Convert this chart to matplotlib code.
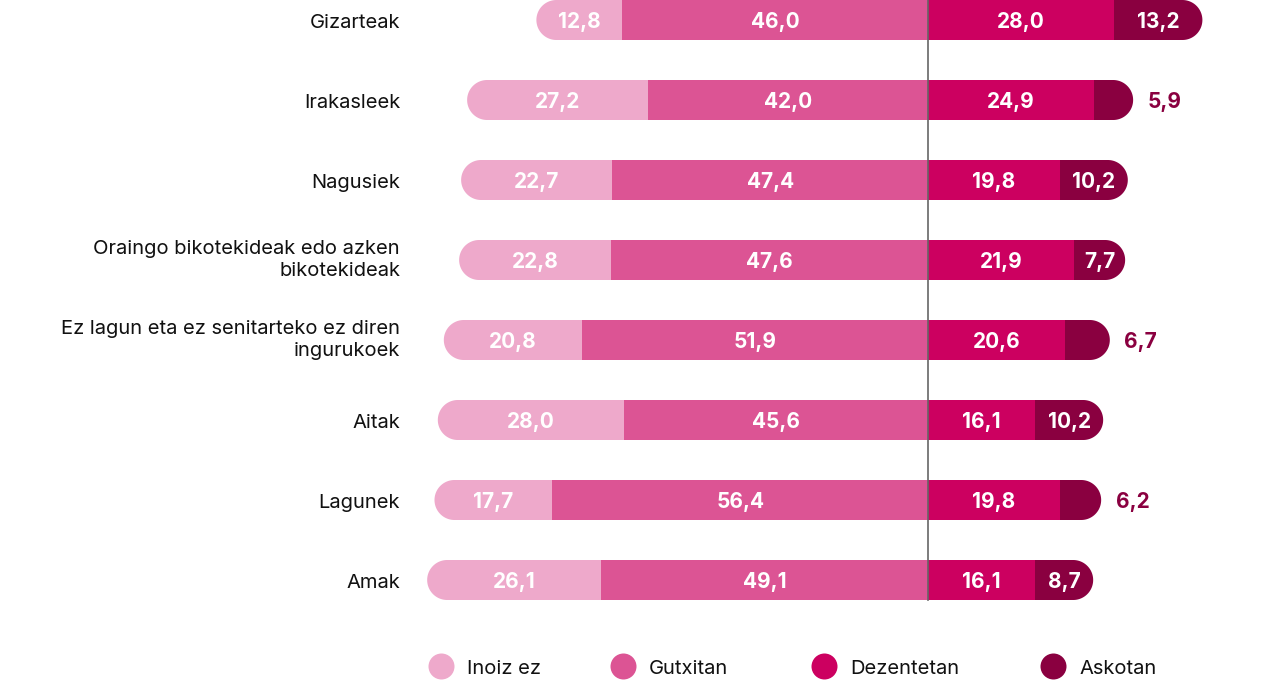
import matplotlib
matplotlib.use("Agg")
import numpy as np
import matplotlib.pyplot as plt
from matplotlib.patches import Polygon

plt.rcParams['font.family'] = ['Inter', 'DejaVu Sans']

categories = ['Gizarteak', 'Irakasleek', 'Nagusiek',
              'Oraingo bikotekideak edo azken\nbikotekideak',
              'Ez lagun eta ez senitarteko ez diren\ningurukoek',
              'Aitak', 'Lagunek', 'Amak']
inoiz_ez = [12.8, 27.2, 22.7, 22.8, 20.8, 28.0, 17.7, 26.1]
gutxitan = [46.0, 42.0, 47.4, 47.6, 51.9, 45.6, 56.4, 49.1]
dezentetan = [28.0, 24.9, 19.8, 21.9, 20.6, 16.1, 19.8, 16.1]
askotan = [13.2, 5.9, 10.2, 7.7, 6.7, 10.2, 6.2, 8.7]
series_names = ['Inoiz ez', 'Gutxitan', 'Dezentetan', 'Askotan']
colors = ['#EEA9CB', '#DC5494', '#CC0060', '#8A0040']

W, H = 1280, 680
center_px = 928
px_per_unit = 6.66
row_px = 80
bar_h = 0.5
r = 20 / px_per_unit  # cap radius in x data units

fig = plt.figure(figsize=(W / 100, H / 100), dpi=100)
ax = fig.add_axes([0, 0, 1, 1])
ax.set_xlim(-center_px / px_per_unit, (W - center_px) / px_per_unit)
ax.set_ylim((H - 20) / row_px, -20 / row_px)
ax.axis('off')

num_off = 7.5 / row_px
lab_off = 7.5 / row_px


def fmt(v):
    return f'{v:.1f}'.replace('.', ',')


def capsule(x0, x1, y, color, side):
    # bar with one semicircular end (ellipse in data = circle in pixels)
    hh = bar_h / 2
    if side == 'left':
        t = np.linspace(np.pi / 2, 3 * np.pi / 2, 60)
        xs = x0 + r + r * np.cos(t)
        ys = y + hh * np.sin(t)
        pts = list(zip(xs, ys)) + [(x1, y - hh), (x1, y + hh)]
    else:
        t = np.linspace(-np.pi / 2, np.pi / 2, 60)
        xs = x1 - r + r * np.cos(t)
        ys = y + hh * np.sin(t)
        pts = list(zip(xs, ys)) + [(x0, y + hh), (x0, y - hh)]
    ax.add_patch(Polygon(pts, closed=True, fc=color, ec='none', zorder=0.5))


for i, cat in enumerate(categories):
    a, b, c, d = inoiz_ez[i], gutxitan[i], dezentetan[i], askotan[i]
    left_end = -(a + b)
    right_end = c + d
    # outer segments (rounded), running slightly under the inner ones
    capsule(left_end, -b + 1, i, colors[0], 'left')
    capsule(c - 1, right_end, i, colors[3], 'right')
    # inner segments
    ax.barh(i, -b, left=0, height=bar_h, color=colors[1], linewidth=0, zorder=1)
    ax.barh(i, c, left=0, height=bar_h, color=colors[2], linewidth=0, zorder=1)

    y = i + num_off
    tk = dict(fontsize=15, fontweight='bold', va='baseline', zorder=5)
    ax.text(-b - a / 2, y, fmt(a), color='white', ha='center', **tk)
    ax.text(-b / 2, y, fmt(b), color='white', ha='center', **tk)
    ax.text(c / 2, y, fmt(c), color='white', ha='center', **tk)
    if d > 7:
        ax.text(c + d / 2, y, fmt(d), color='white', ha='center', **tk)
    else:
        ax.text(right_end + 2.2, y, fmt(d), color=colors[3], ha='left', **tk)

    lx = -(center_px - 400) / px_per_unit
    if '\n' in cat:
        ax.text(lx, i, cat, ha='right', va='center', fontsize=14.5,
                color='#111111', linespacing=1.25, multialignment='right')
    else:
        ax.text(lx, i + lab_off, cat, ha='right', va='baseline', fontsize=14.5,
                color='#111111')

ax.plot([0, 0], [-0.25, len(categories) - 1 + bar_h / 2], color='#666666', lw=1.2, zorder=4)

# legend
leg_y = (666 - 20) / row_px
leg_x = [441, 623, 824, 1053]
for name, col, xp in zip(series_names, colors, leg_x):
    x = (xp - center_px) / px_per_unit
    ax.plot(x, leg_y, 'o', ms=26 * 0.72, color=col, mew=0)
    ax.text(x + 26 / px_per_unit, leg_y + lab_off, name, ha='left', va='baseline',
            fontsize=14.5, color='#111111')

fig.savefig('out.png', dpi=100)
